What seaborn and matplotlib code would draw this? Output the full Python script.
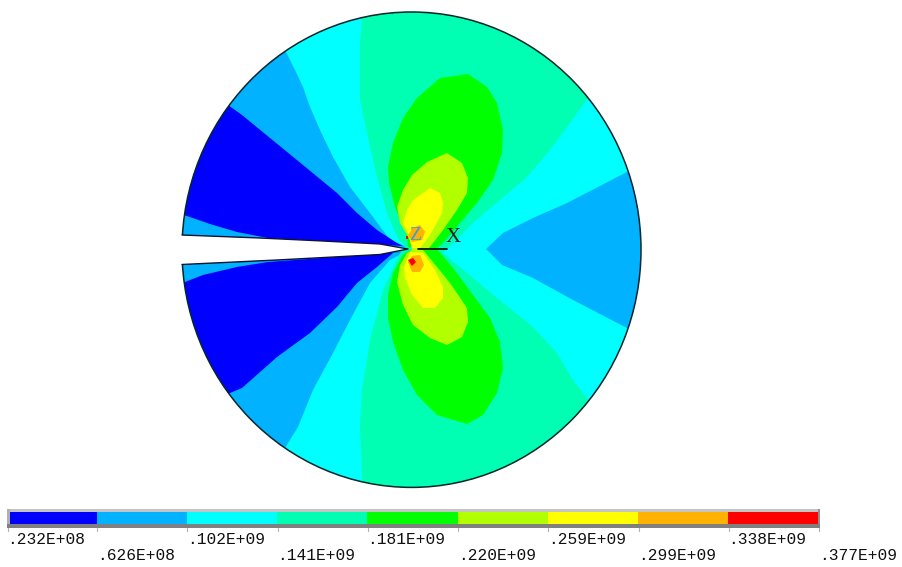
import numpy as np
import seaborn as sns
from matplotlib import pyplot as plt
from matplotlib.colors import ListedColormap
from matplotlib.patches import Ellipse, Rectangle

# Contour band colours and legend labels
band_colors = ['#0000FF', '#00B2FF', '#00FFFF', '#00FFB2', '#00FF00',
               '#B2FF00', '#FFFF00', '#FFB200', '#FF0000']
level_labels = ['.232E+08', '.626E+08', '.102E+09', '.141E+09', '.181E+09',
                '.220E+09', '.259E+09', '.299E+09', '.338E+09', '.377E+09']
level_x = [7, 97, 187, 277, 367, 458, 548, 638, 728, 819]
tick_x = [8, 97, 187, 278, 368, 458, 548, 639, 729, 819]

# Contour outlines, in image pixels
lightblue_upper = [(280, 40), (285, 50), (295, 70), (303, 87), (310, 107),
                   (320, 130), (333, 157), (350, 187), (370, 213), (390, 240),
                   (407, 247), (170, 240), (150, 100)]
blue_upper = [(228, 105), (242, 115), (270, 138), (303, 165), (337, 193),
              (357, 213), (377, 230), (397, 243), (403, 246), (268, 238),
              (237, 232), (210, 224), (187, 216), (170, 212), (170, 100)]
lightblue_lower = [(275, 460), (285, 448), (298, 427), (313, 390), (333, 353),
                   (350, 320), (370, 283), (390, 260), (407, 251), (170, 262),
                   (150, 400)]
blue_lower = [(230, 393), (242, 388), (277, 357), (310, 333), (337, 307),
              (357, 283), (377, 267), (393, 253), (403, 252), (268, 262),
              (237, 267), (203, 275), (185, 282), (170, 288), (170, 400)]
lightblue_right = [(625, 173), (567, 203), (533, 218), (503, 233), (486, 249),
                   (502, 265), (533, 278), (573, 300), (625, 327), (660, 345),
                   (660, 155)]
teal = [(362, 5), (362, 20), (360, 43), (360, 70), (360, 100), (367, 133),
        (377, 177), (387, 213), (397, 237), (406, 248), (400, 253), (383, 290),
        (370, 340), (362, 390), (360, 427), (362, 473), (362, 495), (650, 495),
        (587, 398), (573, 380), (557, 353), (533, 327), (497, 298), (467, 273),
        (443, 253), (453, 243), (473, 223), (500, 200), (527, 177), (550, 150),
        (570, 123), (585, 102), (600, 80), (650, 5)]
green_upper = [(408, 247), (407, 237), (395, 207), (389, 183), (388, 167),
               (393, 143), (403, 118), (417, 98), (440, 78), (468, 74),
               (487, 87), (497, 103), (503, 130), (502, 153), (493, 180),
               (477, 203), (460, 223), (443, 243), (435, 250)]
green_lower = [(408, 251), (403, 255), (393, 273), (388, 295), (388, 318),
               (393, 342), (403, 370), (417, 395), (437, 415), (467, 424),
               (483, 415), (497, 393), (503, 368), (500, 342), (490, 318),
               (473, 295), (453, 268), (437, 249)]
limegreen_upper = [(410, 240), (400, 223), (397, 207), (403, 190), (412, 175),
                   (427, 162), (447, 153), (462, 163), (468, 178), (467, 193),
                   (457, 210), (443, 230), (430, 247), (427, 250), (412, 250)]
limegreen_lower = [(407, 253), (400, 265), (397, 282), (403, 305), (413, 325),
                   (430, 338), (447, 345), (462, 337), (468, 322), (467, 308),
                   (450, 283), (433, 262), (423, 250), (412, 250)]
yellow_upper = [(412, 248), (408, 233), (403, 223), (407, 210), (413, 200),
                (430, 188), (440, 193), (443, 203), (442, 213), (433, 230),
                (425, 242), (420, 248)]
yellow_lower = [(410, 252), (404, 268), (405, 278), (412, 295), (423, 308),
                (435, 308), (443, 298), (443, 287), (435, 270), (423, 253)]
orange_upper = [(413, 228), (420, 225), (425, 232), (422, 240), (412, 242),
                (408, 235)]
orange_lower = [(408, 262), (412, 256), (420, 255), (424, 265), (420, 272),
                (412, 272)]
red_upper = [(406, 236), (408, 236), (408, 239), (406, 239)]
red_lower = [(408, 260), (413, 258), (416, 262), (412, 266)]
crack = [(170, 234.5), (182, 235), (260, 238), (323, 241), (380, 244),
         (408, 249), (380, 254.5), (343, 256.5), (277, 260), (182, 264.5),
         (170, 265)]

# Painted from the outside in, so that later bands sit on top
regions = [(lightblue_upper, 1), (blue_upper, 0), (lightblue_lower, 1),
           (blue_lower, 0), (lightblue_right, 1), (teal, 3),
           (green_upper, 4), (green_lower, 4), (limegreen_upper, 5),
           (limegreen_lower, 5), (yellow_upper, 6), (yellow_lower, 6),
           (orange_upper, 7), (orange_lower, 7), (red_upper, 8),
           (red_lower, 8)]

sns.set_theme(style='white')
plt.rcParams['font.family'] = ['Liberation Mono', 'DejaVu Sans Mono']
fig = plt.figure(figsize=(9.03, 5.67), dpi=100)
ax = fig.add_axes([0, 0, 1, 1])
ax.set_xlim(0, 903)
ax.set_ylim(567, 0)
ax.axis('off')
ax.set_zorder(2)

disk = Ellipse((411.5, 249.7), 459, 475.4, facecolor=band_colors[2],
               edgecolor='none', zorder=1)
ax.add_patch(disk)
for outline, band in regions:
    xs, ys = zip(*outline)
    for patch in ax.fill(xs, ys, color=band_colors[band], lw=0, zorder=2):
        patch.set_clip_path(disk)

ax.add_patch(Ellipse((411.5, 249.7), 459, 475.4, facecolor='none',
                     edgecolor='#06262b', lw=1.1, zorder=3))
xs, ys = zip(*crack)
ax.fill(xs, ys, color='white', lw=0, zorder=4)
ax.plot(xs[1:-1], ys[1:-1], color='#101030', lw=1, zorder=5)

# Axis triad
ax.plot([418, 447], [249, 249], color='black', lw=1.2, zorder=6)
ax.text(453, 238, 'X', color='#202020', ha='center', va='center',
        family='Liberation Serif', fontsize=15, zorder=6)
ax.text(415, 236, 'Z', color='#3f9fd0', ha='center', va='center',
        family='Liberation Serif', fontsize=14, zorder=6)

# Legend strip
ax.add_patch(Rectangle((7, 509), 813, 3, color='#c4c4c4', lw=0))
ax.add_patch(Rectangle((7, 509), 3, 19, color='#b0b0b0', lw=0))
ax.add_patch(Rectangle((818, 509), 2, 19, color='#909090', lw=0))
ax.add_patch(Rectangle((7, 524), 813, 4, color='#808080', lw=0))
for x in tick_x:
    ax.plot([x, x], [528, 531], color='#b0b0b0', lw=0.8)
for i, (label, x) in enumerate(zip(level_labels, level_x)):
    ax.text(x, 539 if i % 2 == 0 else 556, label, color='#101010', ha='left',
            va='center', fontsize=11.7)

bar_ax = fig.add_axes([7 / 903, 1 - 524 / 567, 811 / 903, 12 / 567])
sns.heatmap(np.arange(9).reshape(1, 9), ax=bar_ax, cbar=False,
            cmap=ListedColormap(band_colors), xticklabels=False,
            yticklabels=False)

fig.savefig('out.png', dpi=100)
